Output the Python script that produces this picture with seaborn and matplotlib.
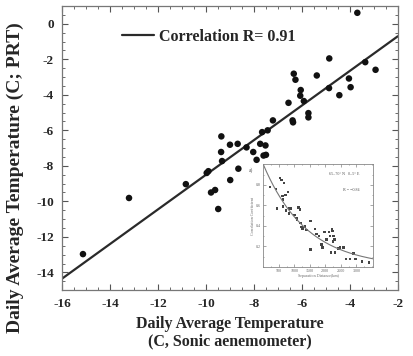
import numpy as np
import seaborn as sns
import pandas as pd
import matplotlib.pyplot as plt
from matplotlib.ticker import MultipleLocator

sns.set_style('ticks')
plt.rcParams['font.family'] = ['Liberation Serif', 'DejaVu Serif']
plt.rcParams['axes.unicode_minus'] = False

# main panel: daily average temperature, sonic vs PRT
sonic_temp = [-15.13, -13.21, -10.84, -9.97, -9.90, -9.79, -9.62, -9.49, -9.36, -9.37,
              -9.33, -9.00, -8.99, -8.68, -8.65, -8.31, -8.03, -7.89, -7.74, -7.66,
              -7.60, -7.50, -7.52, -7.43, -7.21, -6.56, -6.39, -6.37, -6.34, -6.27,
              -6.07, -6.05, -5.92, -5.73, -5.73, -5.38, -4.86, -4.87, -4.44, -4.04,
              -3.97, -3.69, -3.36, -2.93]
prt_temp = [-12.97, -9.81, -9.03, -8.40, -8.30, -9.50, -9.36, -10.43, -6.34, -7.22,
            -7.73, -6.81, -8.80, -6.76, -8.16, -6.96, -7.22, -7.66, -6.76, -6.10,
            -7.42, -7.38, -6.85, -6.00, -5.44, -4.45, -5.44, -5.55, -2.81, -3.15,
            -4.05, -3.73, -4.35, -5.03, -5.27, -2.91, -1.95, -3.62, -4.02, -3.08,
            -3.57, 0.62, -2.16, -2.59]
fit_slope = 0.975
fit_intercept = 1.25
legend_label = 'Correlation R= 0.91'

# inset panel: correlation coefficient vs separation distance
sep_km = [217, 413, 435, 533, 587, 663, 620, 627, 717, 793, 641, 739, 848, 902, 826,
          1011, 1065, 1141, 1174, 1087, 1196, 1228, 1261, 1337, 1391, 1522, 1522,
          1663, 1717, 1804, 1880, 1902, 1967, 2043, 2109, 2152, 2207, 2228, 2261,
          2293, 2239, 2174, 2315, 2424, 2478, 2587, 2674, 2804, 2967, 3185, 3402, 2913]
corr_coef = [0.78, 0.76, 0.57, 0.87, 0.85, 0.82, 0.69, 0.66, 0.70, 0.73, 0.59, 0.55,
             0.57, 0.57, 0.52, 0.51, 0.48, 0.58, 0.56, 0.46, 0.43, 0.39, 0.375, 0.395,
             0.36, 0.45, 0.17, 0.37, 0.32, 0.30, 0.22, 0.19, 0.34, 0.27, 0.34, 0.30,
             0.37, 0.35, 0.30, 0.27, 0.25, 0.14, 0.14, 0.18, 0.19, 0.19, 0.08, 0.08,
             0.08, 0.055, 0.045, 0.13]
decay_km = 1400.0

df = pd.DataFrame({'sonic': sonic_temp, 'prt': prt_temp})
df_in = pd.DataFrame({'sep': sep_km, 'corr': corr_coef})

fig = plt.figure(figsize=(4.14, 3.56), dpi=100)
ax = fig.add_axes([0.150, 0.185, 0.811, 0.798])

ax.axline((0, fit_intercept), slope=fit_slope, color='#2a2a2a', lw=1.6, label=legend_label)
sns.scatterplot(data=df, x='sonic', y='prt', ax=ax, color='#111111', s=22,
                edgecolor='none', zorder=3)

ax.set_xlim(-16, -2)
ax.set_ylim(-15, 1)
ax.xaxis.set_major_locator(MultipleLocator(2))
ax.xaxis.set_minor_locator(MultipleLocator(0.5))
ax.yaxis.set_major_locator(MultipleLocator(2))
ax.yaxis.set_minor_locator(MultipleLocator(0.5))
ax.set_yticks([0, -2, -4, -6, -8, -10, -12, -14])
ax.tick_params(which='both', direction='in', top=True, right=True, color='#555555')
ax.tick_params(which='major', length=4, width=0.8, labelsize=9.5, pad=6)
ax.tick_params(which='minor', length=2.5, width=0.6)
for lab in ax.get_xticklabels() + ax.get_yticklabels():
    lab.set_fontweight('bold')
for sp in ax.spines.values():
    sp.set_color('#777777')
    sp.set_linewidth(0.9)

ax.set_xlabel('Daily Average Temperature\n(C, Sonic aenemometer)', fontsize=11.5,
              fontweight='bold', linespacing=1.1, labelpad=4)
ax.set_ylabel('')
fig.text(0.036, 0.50, 'Daily Average Temperature (C; PRT)', rotation=90, fontsize=14,
         fontweight='bold', ha='center', va='center')

ax.legend(loc='upper left', bbox_to_anchor=(0.135, 0.97), frameon=False,
          handlelength=2.0, handletextpad=0.3, prop={'weight': 'bold', 'size': 11.5})

# inset
axin = fig.add_axes([0.636, 0.250, 0.266, 0.288])
xs = np.linspace(0, 3550, 200)
axin.plot(xs, np.exp(-xs / decay_km), color='#777777', lw=0.8)
sns.scatterplot(data=df_in, x='sep', y='corr', ax=axin, color='#444444', s=3,
                edgecolor='none', marker='s')
axin.set_xlim(0, 3550)
axin.set_ylim(0, 1.0)
axin.set_xticks([500, 1000, 1500, 2000, 2500, 3000])
axin.set_yticks([0.2, 0.4, 0.6, 0.8])
axin.xaxis.set_minor_locator(MultipleLocator(250))
axin.yaxis.set_minor_locator(MultipleLocator(0.1))
axin.tick_params(which='both', direction='in', top=True, right=True, labelsize=3,
                 length=2, width=0.4, color='#666666', labelcolor='#666666', pad=1.5)
axin.tick_params(which='minor', length=1)
for sp in axin.spines.values():
    sp.set_color('#888888')
    sp.set_linewidth(0.6)
axin.set_xlabel('Separation Distance(km)', fontsize=3, color='#666666', labelpad=1)
axin.set_ylabel('Correlation Coefficient', fontsize=3, color='#666666', labelpad=1)
axin.text(0.60, 0.90, '65\u201370\u00b0 N   0\u20135\u00b0 E', transform=axin.transAxes,
          fontsize=3, color='#555555')
axin.text(0.72, 0.74, 'R = \u22120.84', transform=axin.transAxes, fontsize=3, color='#555555')
axin.text(-0.13, 0.93, 'a)', transform=axin.transAxes, fontsize=4, color='#555555')

plt.savefig('out.png', dpi=100)
plt.close()
